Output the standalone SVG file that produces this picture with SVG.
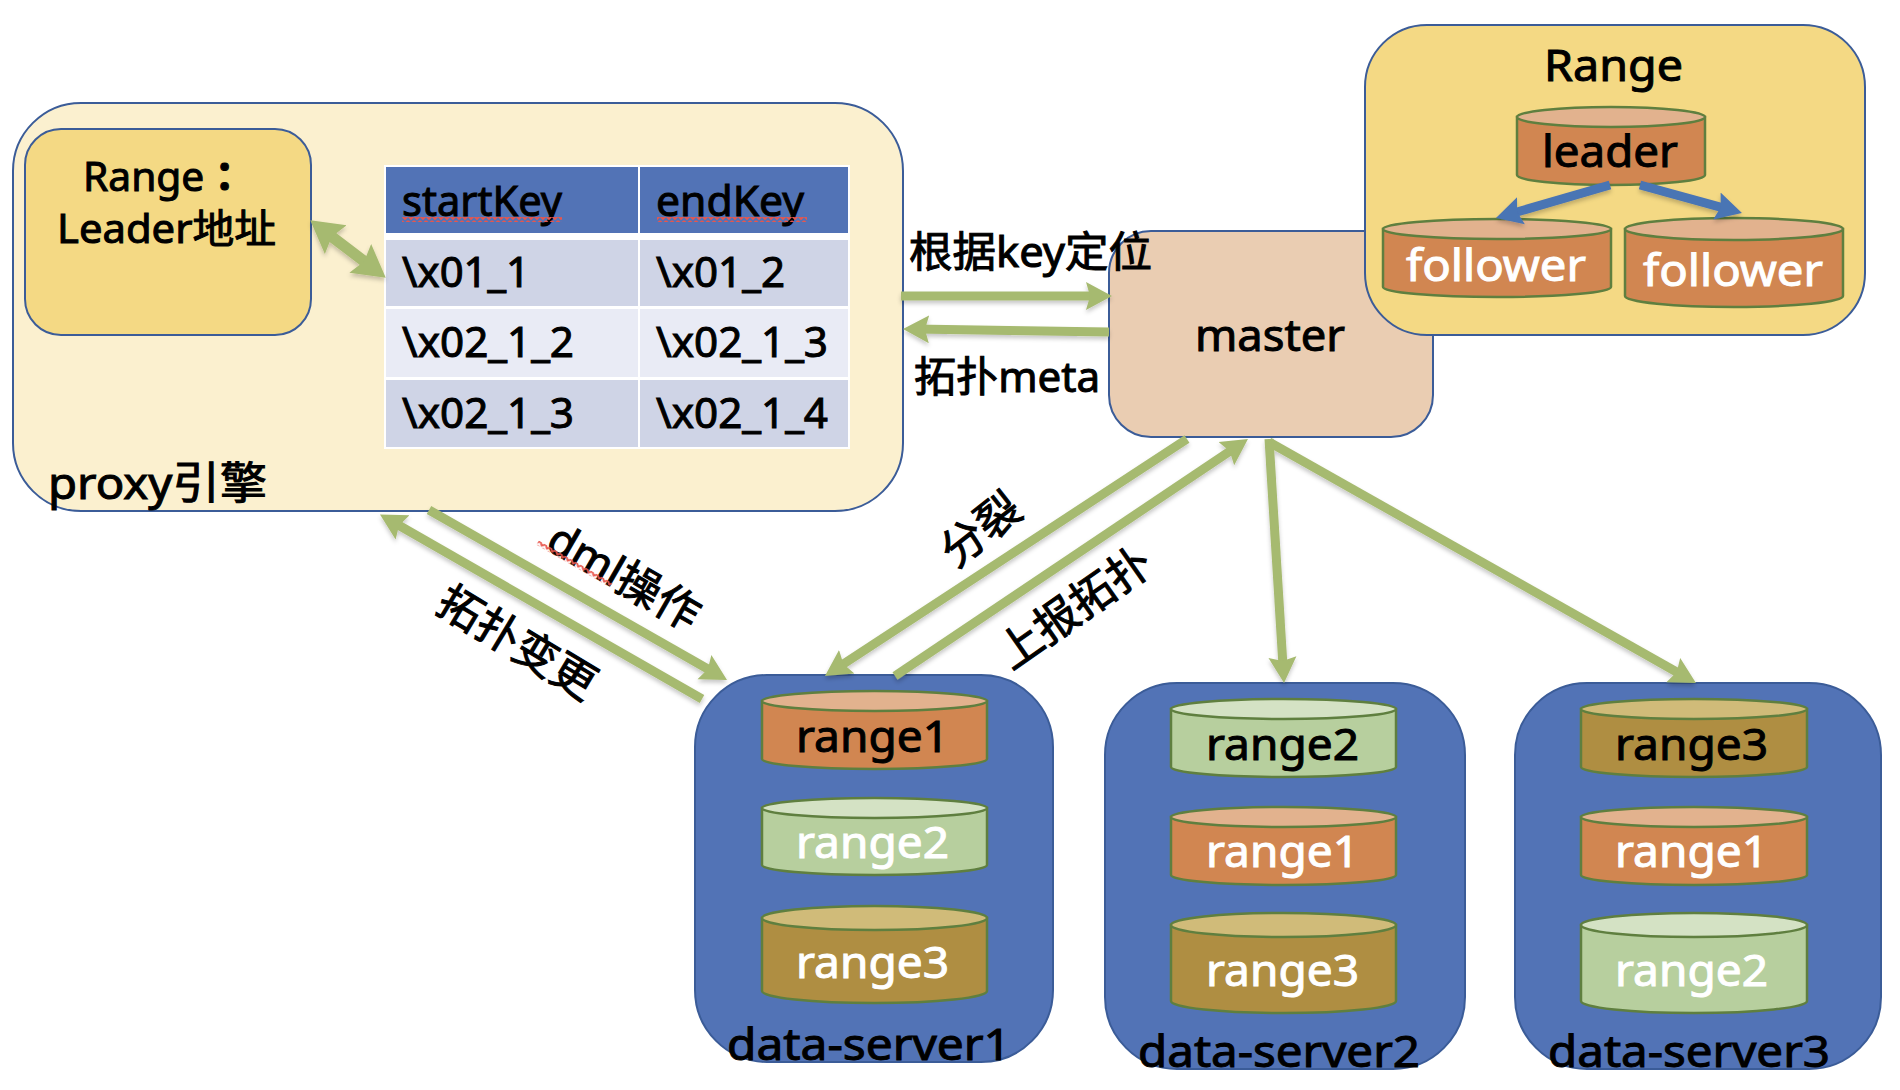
<svg xmlns="http://www.w3.org/2000/svg" width="1900" height="1090" viewBox="0 0 1900 1090">
<style>
text{font-family:"Noto Sans","Noto Sans CJK SC",sans-serif;fill:#000;stroke:#000;stroke-width:1}
.w{fill:#fff;stroke:#fff}
.s40{font-size:40px}.s42{font-size:42px}.s44{font-size:44px}
.box{stroke:#3B5C98;stroke-width:2}
.ds{fill:#5273B6}
.cy{stroke:#5F7F3F;stroke-width:2.5}
.o{fill:#D18651}.ot{fill:#E2B28E}
.g{fill:#B7CF9E}.gt{fill:#D4E2C4}
.b{fill:#AF8E42}.bt{fill:#D0BB79}
.h{fill:#5273B6}.r1{fill:#CFD4E6}.r2{fill:#E9EBF5}
.arrow{fill:none;stroke:#A6BA70;stroke-width:9;marker-end:url(#ga)}
.both{stroke-width:11;marker-start:url(#gb);marker-end:url(#gb)}
.blue{fill:none;stroke:#4A74B4;stroke-width:9;marker-end:url(#ba)}
</style>
<defs>
<marker id="ga" markerUnits="userSpaceOnUse" markerWidth="30" markerHeight="32" refX="14" refY="15" orient="auto-start-reverse"><path d="M0 1L26 15L0 29L4 15Z" fill="#A6BA70"/></marker>
<marker id="gb" markerUnits="userSpaceOnUse" markerWidth="36" markerHeight="38" refX="16" refY="18" orient="auto-start-reverse"><path d="M0 0L32 18L0 36L5 18Z" fill="#A6BA70"/></marker>
<marker id="ba" markerUnits="userSpaceOnUse" markerWidth="30" markerHeight="32" refX="14" refY="15" orient="auto"><path d="M0 1L26 15L0 29L4 15Z" fill="#4A74B4"/></marker>
<pattern id="zig" width="6" height="5" patternUnits="userSpaceOnUse"><path d="M0 1L3 4L6 1" fill="none" stroke="#E8564C" stroke-width="1.800"/></pattern>
<filter id="sh" x="0" y="0" width="1900" height="1090" filterUnits="userSpaceOnUse"><feDropShadow dx="0" dy="3" stdDeviation="2" flood-color="#000" flood-opacity=".22"/></filter>
</defs>

<g id="proxy">
<rect class="box" x="13" y="103" width="890" height="408" rx="68" fill="#FBF0CF"/>
<text class="s44" x="48" y="499" textLength="219" lengthAdjust="spacingAndGlyphs">proxy引擎</text>
</g>
<g id="range-leader">
<rect class="box" x="25" y="129" width="286" height="206" rx="36" fill="#F4D984"/>
<text class="s40" x="83" y="191" textLength="162" lengthAdjust="spacingAndGlyphs">Range<tspan font-family="Noto Sans CJK TC" font-weight="700">：</tspan></text>
<text class="s40" x="57" y="243" textLength="219" lengthAdjust="spacingAndGlyphs">Leader地址</text>
</g>
<g id="table">
<rect x="384" y="165" width="466" height="284" fill="#fff"/>
<rect class="h" x="386" y="167" width="252" height="66"/><rect class="h" x="640" y="167" width="208" height="66"/>
<rect class="r1" x="386" y="240" width="252" height="66"/><rect class="r1" x="640" y="240" width="208" height="66"/>
<rect class="r2" x="386" y="309" width="252" height="68"/><rect class="r2" x="640" y="309" width="208" height="68"/>
<rect class="r1" x="386" y="380" width="252" height="67"/><rect class="r1" x="640" y="380" width="208" height="67"/>
<text class="s42" x="402" y="216" textLength="160" lengthAdjust="spacingAndGlyphs">startKey</text>
<text class="s42" x="656" y="216" textLength="148" lengthAdjust="spacingAndGlyphs">endKey</text>
<rect x="402" y="217" width="160" height="5" fill="url(#zig)"/>
<rect x="657" y="217" width="150" height="5" fill="url(#zig)"/>
<text class="s42" x="402" y="287" textLength="128" lengthAdjust="spacingAndGlyphs">\x01_1</text>
<text class="s42" x="656" y="287" textLength="129" lengthAdjust="spacingAndGlyphs">\x01_2</text>
<text class="s42" x="402" y="357" textLength="172" lengthAdjust="spacingAndGlyphs">\x02_1_2</text>
<text class="s42" x="656" y="357" textLength="172" lengthAdjust="spacingAndGlyphs">\x02_1_3</text>
<text class="s42" x="402" y="428" textLength="172" lengthAdjust="spacingAndGlyphs">\x02_1_3</text>
<text class="s42" x="656" y="428" textLength="172" lengthAdjust="spacingAndGlyphs">\x02_1_4</text>
</g>
<g id="master">
<rect class="box" x="1109" y="231" width="324" height="206" rx="42" fill="#EACDB2"/>
<text class="s44" x="1195" y="351" textLength="150" lengthAdjust="spacingAndGlyphs">master</text>
</g>
<g id="range">
<rect class="box" x="1365" y="25" width="500" height="310" rx="62" fill="#F4D984"/>
<text class="s44" x="1544" y="81" textLength="139" lengthAdjust="spacingAndGlyphs">Range</text>
<g id="leader"><path class="cy o" d="M1517 117V175A94 10 0 0 0 1705 175V117Z"/><ellipse class="cy ot" cx="1611" cy="117" rx="94" ry="10"/>
<text class="s44" x="1542" y="167" textLength="136" lengthAdjust="spacingAndGlyphs">leader</text></g>
<g id="follower1"><path class="cy o" d="M1383 229V287A114 10 0 0 0 1611 287V229Z"/><ellipse class="cy ot" cx="1497" cy="229" rx="114" ry="10"/>
<text class="s44 w" x="1406" y="281" textLength="180" lengthAdjust="spacingAndGlyphs">follower</text></g>
<g id="follower2"><path class="cy o" d="M1625 229V296A109 11 0 0 0 1843 296V229Z"/><ellipse class="cy ot" cx="1734" cy="229" rx="109" ry="11"/>
<text class="s44 w" x="1643" y="286" textLength="180" lengthAdjust="spacingAndGlyphs">follower</text></g>
</g>

<g id="data-server1">
<rect class="box ds" x="695" y="675" width="358" height="387" rx="72"/>
<path class="cy o" d="M762 701V759A112.500 10 0 0 0 987 759V701Z"/><ellipse class="cy ot" cx="874.500" cy="701" rx="112.500" ry="10"/>
<text class="s44" x="796" y="752" textLength="153" lengthAdjust="spacingAndGlyphs">range1</text>
<path class="cy g" d="M762 808V865A112.500 10 0 0 0 987 865V808Z"/><ellipse class="cy gt" cx="874.500" cy="808" rx="112.500" ry="10"/>
<text class="s44 w" x="796" y="858" textLength="153" lengthAdjust="spacingAndGlyphs">range2</text>
<path class="cy b" d="M762 918V991A112.500 12 0 0 0 987 991V918Z"/><ellipse class="cy bt" cx="874.500" cy="918" rx="112.500" ry="12"/>
<text class="s44 w" x="796" y="978" textLength="153" lengthAdjust="spacingAndGlyphs">range3</text>
<text class="s44" x="727" y="1060" textLength="284" lengthAdjust="spacingAndGlyphs">data-server1</text>
</g>
<g id="data-server2">
<rect class="box ds" x="1105" y="683" width="360" height="386" rx="72"/>
<path class="cy g" d="M1171 709V767A112.500 10 0 0 0 1396 767V709Z"/><ellipse class="cy gt" cx="1283.500" cy="709" rx="112.500" ry="10"/>
<text class="s44" x="1206" y="760" textLength="153" lengthAdjust="spacingAndGlyphs">range2</text>
<path class="cy o" d="M1171 817V875A112.500 10 0 0 0 1396 875V817Z"/><ellipse class="cy ot" cx="1283.500" cy="817" rx="112.500" ry="10"/>
<text class="s44 w" x="1206" y="867" textLength="153" lengthAdjust="spacingAndGlyphs">range1</text>
<path class="cy b" d="M1171 925V1001A112.500 12 0 0 0 1396 1001V925Z"/><ellipse class="cy bt" cx="1283.500" cy="925" rx="112.500" ry="12"/>
<text class="s44 w" x="1206" y="986" textLength="153" lengthAdjust="spacingAndGlyphs">range3</text>
<text class="s44" x="1138" y="1067" textLength="282" lengthAdjust="spacingAndGlyphs">data-server2</text>
</g>
<g id="data-server3">
<rect class="box ds" x="1515" y="683" width="366" height="386" rx="72"/>
<path class="cy b" d="M1581 709V767A113 10 0 0 0 1807 767V709Z"/><ellipse class="cy bt" cx="1694" cy="709" rx="113" ry="10"/>
<text class="s44" x="1615" y="760" textLength="153" lengthAdjust="spacingAndGlyphs">range3</text>
<path class="cy o" d="M1581 817V875A113 10 0 0 0 1807 875V817Z"/><ellipse class="cy ot" cx="1694" cy="817" rx="113" ry="10"/>
<text class="s44 w" x="1615" y="867" textLength="153" lengthAdjust="spacingAndGlyphs">range1</text>
<path class="cy g" d="M1581 925V1001A113 12 0 0 0 1807 1001V925Z"/><ellipse class="cy gt" cx="1694" cy="925" rx="113" ry="12"/>
<text class="s44 w" x="1615" y="986" textLength="153" lengthAdjust="spacingAndGlyphs">range2</text>
<text class="s44" x="1548" y="1067" textLength="282" lengthAdjust="spacingAndGlyphs">data-server3</text>
</g>

<g id="connectors" filter="url(#sh)">
<path class="arrow" d="M901 296H1100"/>
<path class="arrow" d="M1109 332L915 329.100"/>
<path class="arrow both" d="M323 230L373 268"/>
<path class="arrow" d="M702 699L390.400 520.500"/>
<path class="arrow" d="M429 510L716.600 674"/>
<path class="arrow" d="M1187 439L835 669.500"/>
<path class="arrow" d="M895 676L1238 445.700"/>
<path class="arrow" d="M1269 439L1283.300 671"/>
<path class="arrow" d="M1269 442L1685.500 677"/>
<path class="blue" d="M1610 185L1507.500 214.700"/>
<path class="blue" d="M1640 185L1730.400 209.800"/>
</g>
<g id="connector-labels">
<text class="s42" x="909" y="267" textLength="243" lengthAdjust="spacingAndGlyphs">根据key定位</text>
<text class="s42" x="914" y="392" textLength="186" lengthAdjust="spacingAndGlyphs">拓扑meta</text>
<g transform="translate(517 643) rotate(31)"><text class="s44" text-anchor="middle" y="15">拓扑变更</text></g>
<g transform="translate(624 577) rotate(30)"><text class="s44" text-anchor="middle" y="15">dml操作</text><rect x="-92" y="11" width="85" height="5" fill="url(#zig)"/></g>
<g transform="translate(981 530) rotate(-38)"><text class="s44" text-anchor="middle" y="15">分裂</text></g>
<g transform="translate(1075 608) rotate(-35)"><text class="s44" text-anchor="middle" y="15">上报拓扑</text></g>
</g>
</svg>
